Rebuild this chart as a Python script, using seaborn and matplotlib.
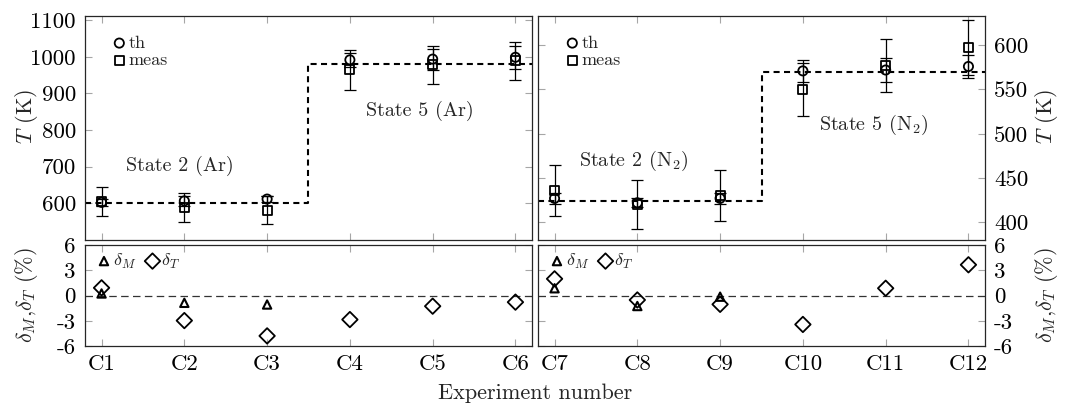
import numpy as np
import pandas as pd
import seaborn as sns
import matplotlib.pyplot as plt

# ---------------------------
# Data
# ---------------------------
cases_ar = ["C1", "C2", "C3", "C4", "C5", "C6"]
cases_n2 = ["C7", "C8", "C9", "C10", "C11", "C12"]

# argon runs (K)
T_th_ar = [602, 606, 611, 992, 994, 999]
T_th_err_ar = [10, 14, 8, 20, 29, 31]
T_meas_ar = [605, 588, 581, 965, 978, 990]
T_meas_err_ar = [40, 39, 38, 55, 52, 52]
state_ar = [600, 982]  # state 2, state 5

# nitrogen runs (K)
T_th_n2 = [427, 422, 427, 571, 572, 576]
T_th_err_n2 = [6, 5, 6, 12, 13, 13]
T_meas_n2 = [436, 420, 430, 550, 577, 597]
T_meas_err_n2 = [29, 28, 29, 30, 30, 31]
state_n2 = [424, 570]

# deviations (%)
dM_ar = [0.24, -0.87, -1.07]
dT_ar = [0.91, -2.98, -4.8, -2.86, -1.27, -0.79]
dM_n2 = [0.86, -1.25, -0.14]
dT_n2 = [1.98, -0.53, -1.05, -3.44, 0.86, 3.65]

dev_ticks = [-6, -3, 0, 3, 6]
dev_ticklabels = ["-6", "-3", "0", "3", "6"]

sns.set_style("white")
plt.rcParams.update({
    "font.family": ["cmr10", "DejaVu Serif"],
    "mathtext.fontset": "cm",
    "axes.unicode_minus": False,
    "axes.formatter.use_mathtext": True,
    "font.size": 14.5,
    "axes.edgecolor": "0.15",
    "axes.linewidth": 0.9,
})

TICK_FS = 16.5
LABEL_FS = 16
W, H = 1065, 405
fig = plt.figure(figsize=(W / 100, H / 100), dpi=100)


def box(x0, x1, y0, y1):
    return [x0 / W, 1 - y1 / H, (x1 - x0) / W, (y1 - y0) / H]


ax_tl = fig.add_axes(box(85, 532, 16, 240))
ax_tr = fig.add_axes(box(538, 985, 16, 240))
ax_bl = fig.add_axes(box(85, 532, 245, 346))
ax_br = fig.add_axes(box(538, 985, 245, 346))


def style_ticks(ax):
    ax.tick_params(direction="in", length=5, width=0.8, color="0.65",
                   labelcolor="black", top=True, right=True, left=True, bottom=True,
                   labelsize=TICK_FS, pad=6.5)


def top_panel(ax, cases, x0, th, th_err, meas, meas_err, levels, ylim, yticks, texts):
    x = np.arange(x0, x0 + len(cases))
    split = x0 + 2.5
    xlim = (x0 - 0.2, x0 + len(cases) - 1 + 0.2)
    # state lines
    ax.plot([xlim[0], split, split, xlim[1]], [levels[0], levels[0], levels[1], levels[1]],
            color="black", lw=1.5, ls=(0, (2.9, 2.1)), zorder=1)
    ax.errorbar(x, meas, yerr=meas_err, fmt="none", ecolor="black", elinewidth=0.9,
                capsize=4.5, capthick=0.9, zorder=2)
    ax.errorbar(x, th, yerr=th_err, fmt="none", ecolor="black", elinewidth=0.9,
                capsize=4.5, capthick=0.9, zorder=2)
    sns.scatterplot(x=x, y=th, marker="o", s=44, facecolor="none", edgecolor="black",
                    linewidth=1.3, label="th", ax=ax, zorder=3, legend=False)
    sns.scatterplot(x=x, y=meas, marker="s", s=42, facecolor="none", edgecolor="black",
                    linewidth=1.3, label="meas", ax=ax, zorder=3, legend=False)
    for tx, ty, s in texts:
        ax.text(tx, ty, s, ha="center", va="center", fontsize=14.5)
    ax.set_xlim(xlim)
    ax.set_ylim(ylim)
    ax.set_xticks(x)
    ax.set_xticklabels([])
    ax.set_yticks(yticks)
    ax.set_yticklabels([str(v) for v in yticks])
    ax.set_xlabel("")
    style_ticks(ax)
    ax.legend(loc="upper left", bbox_to_anchor=(0, 1 + 7 / 224), frameon=False,
              fontsize=13, handletextpad=0.05, labelspacing=0.1, borderaxespad=1.15,
              borderpad=0.3, handlelength=0.9, scatterpoints=1)


def bottom_panel(ax, cases, x0, dM, dT):
    x = np.arange(x0, x0 + len(cases))
    xlim = (x0 - 0.2, x0 + len(cases) - 1 + 0.2)
    ax.axhline(0, color="0.2", lw=0.9, ls=(0, (6, 3.5)), zorder=1)
    sns.scatterplot(x=x[:len(dM)], y=dM, marker="^", s=36, facecolor="none",
                    edgecolor="black", linewidth=1.5, label=r"$\delta_M$", ax=ax,
                    zorder=3, legend=False)
    sns.scatterplot(x=x, y=dT, marker="D", s=62, facecolor="none", edgecolor="black",
                    linewidth=1.3, label=r"$\delta_T$", ax=ax, zorder=3, legend=False)
    ax.set_xlim(xlim)
    ax.set_ylim(-6, 6)
    ax.set_xticks(x)
    ax.set_xticklabels(cases)
    ax.set_yticks(dev_ticks)
    ax.set_yticklabels(dev_ticklabels)
    style_ticks(ax)
    ax.tick_params(axis="x", pad=6)
    ax.legend(loc="upper left", bbox_to_anchor=(0, 1 + 4 / 101), frameon=False,
              fontsize=13, ncol=2, handletextpad=0.05, columnspacing=0.45,
              borderaxespad=0.35, borderpad=0.25, handlelength=0.9, scatterpoints=1)


top_panel(ax_tl, cases_ar, 1, T_th_ar, T_th_err_ar, T_meas_ar, T_meas_err_ar, state_ar,
          (499, 1112), [600, 700, 800, 900, 1000, 1100],
          [(1.95, 701, "State 2 (Ar)"), (4.85, 852, "State 5 (Ar)")])
top_panel(ax_tr, cases_n2, 7, T_th_n2, T_th_err_n2, T_meas_n2, T_meas_err_n2, state_n2,
          (380, 633), [400, 450, 500, 550, 600],
          [(7.96, 469, r"State 2 (N$_2$)"), (10.86, 510, r"State 5 (N$_2$)")])
bottom_panel(ax_bl, cases_ar, 1, dM_ar, dT_ar)
bottom_panel(ax_br, cases_n2, 7, dM_n2, dT_n2)

# labels
ax_tl.set_ylabel(r"$T$ (K)", fontsize=LABEL_FS)
ax_tl.yaxis.set_label_coords(-0.1, 0.55)
ax_bl.set_ylabel(r"$\delta_M$,$\delta_T$ (%)", fontsize=LABEL_FS)
ax_bl.yaxis.set_label_coords(-0.1, 0.5)

for ax in (ax_tr, ax_br):
    ax.tick_params(axis="y", labelleft=False, labelright=True)
    ax.yaxis.set_label_position("right")
ax_tr.set_ylabel(r"$T$ (K)", fontsize=LABEL_FS)
ax_tr.yaxis.set_label_coords(1.108, 0.55)
ax_br.set_ylabel(r"$\delta_M$,$\delta_T$ (%)", fontsize=LABEL_FS)
ax_br.yaxis.set_label_coords(1.108, 0.5)

fig.text(535 / W, 1 - 393 / H, "Experiment number", ha="center", va="center",
         fontsize=LABEL_FS)

fig.savefig("out.png", dpi=100)
